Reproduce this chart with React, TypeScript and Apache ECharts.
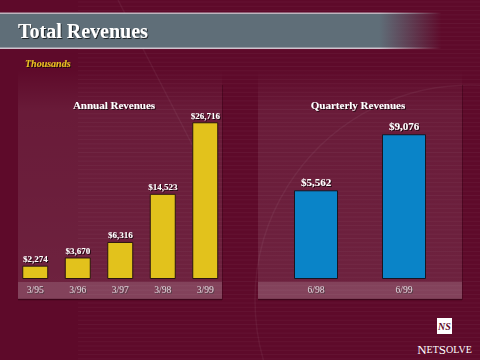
import React, { useEffect, useRef } from "react";
import * as echarts from "echarts";

const annualCategories = ["3/95", "3/96", "3/97", "3/98", "3/99"];
const annualValues = [2274, 3670, 6316, 14523, 26716];
const quarterCategories = ["6/98", "6/99"];
const quarterValues = [5562, 9076];

const SERIF = "'Liberation Serif', 'DejaVu Serif', serif";

function fmt(v: number) {
  return "$" + v.toLocaleString("en-US");
}

export default function App() {
  const ref = useRef<HTMLDivElement>(null);
  useEffect(() => {
    document.body.style.margin = "0";
    const chart = echarts.init(ref.current!, null, { renderer: "svg" });

    const stripes: any[] = [];
    for (let y = 2; y < 360; y += 4.3) {
      stripes.push({
        type: "line",
        silent: true,
        z: 0,
        shape: { x1: 78, y1: y, x2: 480, y2: y },
        style: { stroke: "rgba(255,255,255,0.045)", lineWidth: 1 },
      });
    }

    const shadow = {
      textShadowColor: "rgba(0,0,0,0.7)",
      textShadowOffsetX: 1,
      textShadowOffsetY: 1,
      textShadowBlur: 1,
    };

    const panel = (x: number) => [
      {
        type: "rect",
        silent: true,
        z: 1,
        shape: { x, y: 70, width: 204, height: 229 },
        style: {
          fill: new echarts.graphic.LinearGradient(0, 0, 0, 1, [
            { offset: 0, color: "rgba(255,255,255,0)" },
            { offset: 0.18, color: "rgba(255,255,255,0.07)" },
            { offset: 1, color: "rgba(255,255,255,0.1)" },
          ]),
        },
      },
      {
        type: "rect",
        silent: true,
        z: 1,
        shape: { x, y: 282, width: 204, height: 17 },
        style: { fill: "rgba(255,255,255,0.15)" },
      },
      {
        type: "line",
        silent: true,
        z: 1,
        shape: { x1: x, y1: 299.5, x2: x + 204, y2: 299.5 },
        style: { stroke: "rgba(40,0,15,0.6)", lineWidth: 1.5 },
      },
      {
        type: "line",
        silent: true,
        z: 1,
        shape: { x1: x + 204.5, y1: 85, x2: x + 204.5, y2: 300 },
        style: { stroke: "rgba(40,0,15,0.35)", lineWidth: 1 },
      },
    ];

    const fade = (r: number, g: number, b: number) =>
      new echarts.graphic.LinearGradient(1, 0, 0, 0, [
        { offset: 0, color: `rgba(${r},${g},${b},0)` },
        { offset: 0.08, color: `rgba(${r},${g},${b},0)` },
        { offset: 0.21, color: `rgba(${r},${g},${b},1)` },
        { offset: 1, color: `rgba(${r},${g},${b},1)` },
      ]);

    chart.setOption({
      animation: false,
      backgroundColor: "#5e0a2a",
      graphic: [
        ...stripes,
        {
          type: "circle",
          silent: true,
          z: 0,
          shape: { cx: 470, cy: 300, r: 215 },
          style: { fill: "none", stroke: "rgba(255,255,255,0.05)", lineWidth: 1.5 },
        },
        {
          type: "line",
          silent: true,
          z: 0,
          shape: { x1: 118, y1: 0, x2: 200, y2: 160 },
          style: { stroke: "rgba(255,255,255,0.05)", lineWidth: 1.5 },
        },
        ...panel(18),
        ...panel(258),
        {
          type: "rect",
          silent: true,
          z: 2,
          shape: { x: 0, y: 13, width: 480, height: 35 },
          style: { fill: fade(95, 110, 120) },
        },
        {
          type: "rect",
          silent: true,
          z: 2,
          shape: { x: 0, y: 12.5, width: 480, height: 1.5 },
          style: { fill: fade(190, 180, 190) },
        },
        {
          type: "rect",
          silent: true,
          z: 2,
          shape: { x: 0, y: 47.5, width: 480, height: 1.5 },
          style: { fill: fade(205, 195, 205) },
        },
        {
          type: "text",
          z: 3,
          x: 18,
          y: 31,
          style: {
            text: "Total Revenues",
            fill: "#ffffff",
            font: `bold 20px ${SERIF}`,
            textVerticalAlign: "middle",
            ...shadow,
          },
        },
        {
          type: "text",
          z: 3,
          x: 25,
          y: 63,
          style: {
            text: "Thousands",
            fill: "#e8c020",
            font: `italic bold 10px ${SERIF}`,
            textVerticalAlign: "middle",
            ...shadow,
          },
        },
        {
          type: "text",
          z: 3,
          x: 114,
          y: 105,
          style: {
            text: "Annual Revenues",
            fill: "#ffffff",
            font: `bold 11px ${SERIF}`,
            textAlign: "center",
            textVerticalAlign: "middle",
            ...shadow,
          },
        },
        {
          type: "text",
          z: 3,
          x: 358,
          y: 105,
          style: {
            text: "Quarterly Revenues",
            fill: "#ffffff",
            font: `bold 11px ${SERIF}`,
            textAlign: "center",
            textVerticalAlign: "middle",
            ...shadow,
          },
        },
        {
          type: "rect",
          z: 3,
          shape: { x: 437, y: 318, width: 15, height: 16 },
          style: { fill: "#ffffff" },
        },
        {
          type: "text",
          z: 4,
          x: 444.5,
          y: 326.5,
          style: {
            text: "NS",
            fill: "#5e0a2a",
            font: `italic bold 10px ${SERIF}`,
            textAlign: "center",
            textVerticalAlign: "middle",
          },
        },
        {
          type: "text",
          z: 3,
          x: 444.5,
          y: 349,
          style: {
            text: "{a|N}{b|ET}{a|S}{b|OLVE}",
            textAlign: "center",
            textVerticalAlign: "middle",
            rich: {
              a: { fill: "#ffffff", font: `13px ${SERIF}` },
              b: { fill: "#ffffff", font: `10px ${SERIF}` },
            },
          },
        },
      ],
      grid: [
        { left: 14, width: 212.5, top: 103, bottom: 81 },
        { left: 272, width: 176, top: 119.5, bottom: 81 },
      ],
      xAxis: [
        {
          type: "category",
          gridIndex: 0,
          data: annualCategories,
          axisLine: { show: false },
          axisTick: { show: false },
          axisLabel: {
            margin: 6,
            color: "#d0c0ca",
            fontFamily: SERIF,
            fontSize: 9.5,
            ...shadow,
          },
        },
        {
          type: "category",
          gridIndex: 1,
          data: quarterCategories,
          axisLine: { show: false },
          axisTick: { show: false },
          axisLabel: {
            margin: 6,
            color: "#d0c0ca",
            fontFamily: SERIF,
            fontSize: 9.5,
            ...shadow,
          },
        },
      ],
      yAxis: [
        { type: "value", gridIndex: 0, min: 0, max: 30000, show: false, splitLine: { show: false } },
        { type: "value", gridIndex: 1, min: 0, max: 10000, show: false, splitLine: { show: false } },
      ],
      series: [
        {
          type: "bar",
          xAxisIndex: 0,
          yAxisIndex: 0,
          data: annualValues,
          barWidth: 26,
          itemStyle: { color: "#e2c21c", borderColor: "#2a1410", borderWidth: 1 },
          label: {
            show: true,
            position: "top",
            distance: 2,
            formatter: (p: any) => fmt(p.value),
            color: "#ffffff",
            fontFamily: SERIF,
            fontWeight: "bold",
            fontSize: 9,
            ...shadow,
          },
        },
        {
          type: "bar",
          xAxisIndex: 1,
          yAxisIndex: 1,
          data: quarterValues,
          barWidth: 44,
          itemStyle: { color: "#0a84c8", borderColor: "#1a1420", borderWidth: 1 },
          label: {
            show: true,
            position: "top",
            distance: 3,
            formatter: (p: any) => fmt(p.value),
            color: "#ffffff",
            fontFamily: SERIF,
            fontWeight: "bold",
            fontSize: 11,
            ...shadow,
          },
        },
      ],
    });
    return () => chart.dispose();
  }, []);
  return (
    <div
      ref={ref}
      style={{ position: "fixed", left: 0, top: 0, width: 480, height: 360 }}
    />
  );
}
